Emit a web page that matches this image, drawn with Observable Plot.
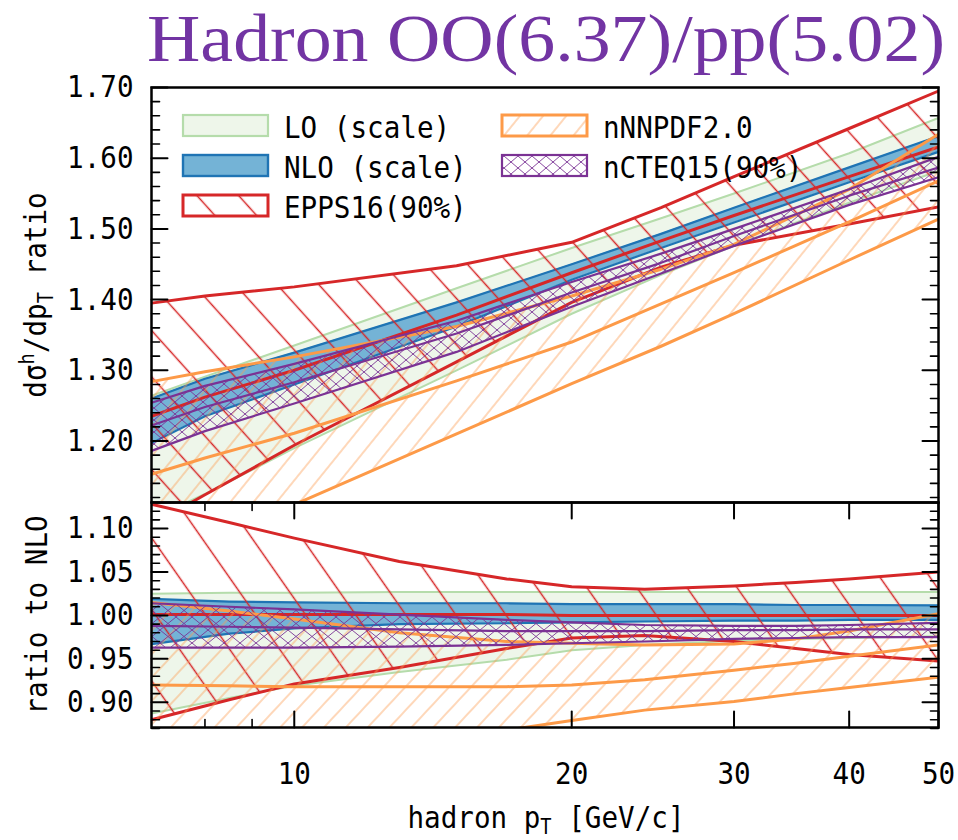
<!DOCTYPE html>
<html><head><meta charset="utf-8">
<script src="https://cdn.jsdelivr.net/npm/d3@7"></script>
<script src="https://cdn.jsdelivr.net/npm/@observablehq/plot@0.6"></script>
<style>
body{margin:0;background:#fff;}
#wrap{position:relative;width:958px;height:840px;overflow:hidden;background:#fff;}
#wrap > svg{position:absolute;left:0;}
</style></head><body>
<svg width="0" height="0" style="position:absolute">
<defs>
<pattern id="eppsTop" patternUnits="userSpaceOnUse" width="31" height="31" patternTransform="rotate(-42)">
  <line x1="15.5" y1="0" x2="15.5" y2="31" stroke="#d62728" stroke-width="1.5"/>
</pattern>
<pattern id="eppsBot" patternUnits="userSpaceOnUse" width="41" height="41" patternTransform="rotate(-35)">
  <line x1="20.5" y1="0" x2="20.5" y2="41" stroke="#d62728" stroke-width="1.5"/>
</pattern>
<pattern id="nnpdfTop" patternUnits="userSpaceOnUse" width="18" height="18" patternTransform="rotate(39)">
  <line x1="9" y1="0" x2="9" y2="18" stroke="#fd9a50" stroke-width="0.8"/>
</pattern>
<pattern id="nnpdfBot" patternUnits="userSpaceOnUse" width="16" height="16" patternTransform="rotate(43)">
  <line x1="8" y1="0" x2="8" y2="16" stroke="#fd9a50" stroke-width="0.8"/>
</pattern>
<pattern id="ncteqTop" patternUnits="userSpaceOnUse" width="14" height="12">
  <path d="M0,0L14,12M14,0L0,12" stroke="#7b3294" stroke-width="0.9" fill="none"/>
</pattern>
<pattern id="ncteqBot" patternUnits="userSpaceOnUse" width="16" height="13">
  <path d="M0,0L16,13M16,0L0,13" stroke="#7b3294" stroke-width="0.9" fill="none"/>
</pattern>
</defs></svg>
<div id="wrap"></div>
<script>
// ---------- data: upper panel (cross-section ratio) ----------
const ptTop = [7, 8, 10, 15, 20, 25, 30, 40, 50];
const loTopUpper      = [1.264, 1.291, 1.335, 1.416, 1.473, 1.515, 1.550, 1.607, 1.657];
const loTopLower      = [1.090, 1.125, 1.190, 1.300, 1.380, 1.435, 1.476, 1.537, 1.582];
const nloTopUpper     = [1.260, 1.288, 1.325, 1.396, 1.450, 1.493, 1.530, 1.587, 1.631];
const nloTopLower     = [1.197, 1.235, 1.280, 1.362, 1.428, 1.473, 1.509, 1.566, 1.609];
const eppsTopUpper    = [1.395, 1.405, 1.418, 1.448, 1.481, 1.530, 1.574, 1.642, 1.695];
const eppsTopCentral  = [1.235, 1.262, 1.300, 1.378, 1.438, 1.483, 1.519, 1.574, 1.616];
const eppsTopLower    = [1.081, 1.124, 1.194, 1.312, 1.396, 1.446, 1.477, 1.507, 1.531];
const nnpdfTopUpper   = [1.284, 1.298, 1.319, 1.362, 1.405, 1.443, 1.478, 1.556, 1.634];
const nnpdfTopCentral = [1.153, 1.176, 1.211, 1.285, 1.340, 1.394, 1.438, 1.510, 1.568];
const nnpdfTopLower   = [1.022, 1.056, 1.110, 1.210, 1.281, 1.334, 1.380, 1.456, 1.514];
const ncteqTopUpper   = [1.254, 1.278, 1.309, 1.370, 1.425, 1.465, 1.500, 1.556, 1.602];
const ncteqTopCentral = [1.222, 1.248, 1.283, 1.352, 1.410, 1.452, 1.490, 1.547, 1.587];
const ncteqTopLower   = [1.186, 1.214, 1.253, 1.326, 1.390, 1.437, 1.476, 1.534, 1.573];

// ---------- data: lower panel (ratio to NLO) ----------
const ptRatio = [7, 8.5, 10, 13, 17, 20, 24, 30, 35, 40, 50];
const loRatioUpper      = [1.025, 1.026, 1.026, 1.027, 1.027, 1.027, 1.027, 1.027, 1.027, 1.027, 1.027];
const loRatioLower      = [0.887, 0.905, 0.919, 0.935, 0.949, 0.960, 0.966, 0.971, 0.973, 0.974, 0.976];
const nloRatioUpper     = [1.019, 1.016, 1.015, 1.014, 1.014, 1.013, 1.013, 1.013, 1.012, 1.012, 1.0115];
const nloRatioLower     = [0.967, 0.979, 0.985, 0.990, 0.991, 0.992, 0.993, 0.994, 0.994, 0.995, 0.995];
const eppsRatioUpper    = [1.128, 1.107, 1.089, 1.062, 1.042, 1.033, 1.030, 1.034, 1.038, 1.042, 1.050];
const eppsRatioCentral  = [1.001, 1.001, 1.001, 1.001, 1.001, 1.000, 1.000, 1.000, 1.000, 1.000, 1.000];
const eppsRatioLower    = [0.880, 0.903, 0.921, 0.940, 0.962, 0.974, 0.977, 0.970, 0.962, 0.955, 0.9475];
const nnpdfRatioUpper   = [1.015, 1.005, 0.996, 0.980, 0.970, 0.968, 0.966, 0.967, 0.973, 0.982, 1.002];
const nnpdfRatioCentral = [0.920, 0.919, 0.918, 0.918, 0.918, 0.920, 0.926, 0.937, 0.945, 0.953, 0.966];
const nnpdfRatioLower   = [0.805, 0.818, 0.830, 0.848, 0.868, 0.879, 0.891, 0.901, 0.910, 0.917, 0.929];
const ncteqRatioUpper   = [1.014, 1.010, 1.007, 1.001, 0.995, 0.992, 0.989, 0.988, 0.988, 0.989, 0.9915];
const ncteqRatioCentral = [0.988, 0.987, 0.986, 0.984, 0.982, 0.982, 0.982, 0.983, 0.983, 0.984, 0.984];
const ncteqRatioLower   = [0.963, 0.963, 0.963, 0.964, 0.966, 0.968, 0.970, 0.973, 0.974, 0.975, 0.975];

// ---------- axis ticks / labels ----------
const xTickLabels = [10, 20, 30, 40, 50];
const xMinorTicks = [8, 9];
const yTopLabels = [1.20, 1.30, 1.40, 1.50, 1.60, 1.70];
const yBotLabels = [0.90, 0.95, 1.00, 1.05, 1.10];
const legendLabels = ["LO (scale)", "NLO (scale)", "EPPS16(90%)", "nNNPDF2.0", "nCTEQ15(90%)"];
const titleText = "Hadron OO(6.37)/pp(5.02)";

const yTopMinor = d3.range(56, 86).filter(i => i % 5 !== 0).map(i => i / 50);
const yBotMinor = d3.range(87, 114).filter(i => i % 5 !== 0).map(i => i / 100);

const C = {
  loFill: "#eef6ea", loLine: "#b5dcab",
  nloFill: "#74b3d6", nloLine: "#1f74b4",
  red: "#d62728", orange: "#fd9a48", purple: "#7b3294"
};
const MONO = "DejaVu Sans Mono";

function rows(pt, s) {
  return pt.map((p, i) => {
    const r = {pt: p};
    for (const k in s) r[k] = s[k][i];
    return r;
  });
}
const topRows = rows(ptTop, {
  loU: loTopUpper, loL: loTopLower, nloU: nloTopUpper, nloL: nloTopLower,
  eU: eppsTopUpper, eC: eppsTopCentral, eL: eppsTopLower,
  nU: nnpdfTopUpper, nC: nnpdfTopCentral, nL: nnpdfTopLower,
  cU: ncteqTopUpper, cC: ncteqTopCentral, cL: ncteqTopLower
});
const botRows = rows(ptRatio, {
  loU: loRatioUpper, loL: loRatioLower, nloU: nloRatioUpper, nloL: nloRatioLower,
  eU: eppsRatioUpper, eC: eppsRatioCentral, eL: eppsRatioLower,
  nU: nnpdfRatioUpper, nC: nnpdfRatioCentral, nL: nnpdfRatioLower,
  cU: ncteqRatioUpper, cC: ncteqRatioCentral, cL: ncteqRatioLower
});

const tickUp = {draw(c, l) { c.moveTo(0, 0); c.lineTo(0, -l); }};
const tickDown = {draw(c, l) { c.moveTo(0, 0); c.lineTo(0, l); }};
const tickRight = {draw(c, l) { c.moveTo(0, 0); c.lineTo(l, 0); }};
const tickLeft = {draw(c, l) { c.moveTo(0, 0); c.lineTo(-l, 0); }};

function yEdgeTicks(yMaj, yMin) {
  const s = {stroke: "black", anchor: "start"};
  const M = 16, m = 8;
  return [
    Plot.vectorY(yMaj, {y: d => d, frameAnchor: "left", length: M, shape: tickRight, strokeWidth: 2, ...s}),
    Plot.vectorY(yMaj, {y: d => d, frameAnchor: "right", length: M, shape: tickLeft, strokeWidth: 2, ...s}),
    Plot.vectorY(yMin, {y: d => d, frameAnchor: "left", length: m, shape: tickRight, strokeWidth: 1.6, ...s}),
    Plot.vectorY(yMin, {y: d => d, frameAnchor: "right", length: m, shape: tickLeft, strokeWidth: 1.6, ...s})
  ];
}
function xEdgeTicks() {
  const s = {stroke: "black", anchor: "start"};
  const M = 16, m = 8;
  return [
    Plot.vectorX(xTickLabels, {x: d => d, frameAnchor: "bottom", length: M, shape: tickUp, strokeWidth: 2, ...s}),
    Plot.vectorX(xTickLabels, {x: d => d, frameAnchor: "top", length: M, shape: tickDown, strokeWidth: 2, ...s}),
    Plot.vectorX(xMinorTicks, {x: d => d, frameAnchor: "bottom", length: m, shape: tickUp, strokeWidth: 1.6, ...s}),
    Plot.vectorX(xMinorTicks, {x: d => d, frameAnchor: "top", length: m, shape: tickDown, strokeWidth: 1.6, ...s})
  ];
}

function bandMarks(data, pats) {
  const L = (y, stroke, w) => Plot.lineY(data, {x: "pt", y, stroke, strokeWidth: w, clip: true});
  return [
    Plot.areaY(data, {x: "pt", y1: "loL", y2: "loU", fill: C.loFill, clip: true}),
    L("loU", C.loLine, 2), L("loL", C.loLine, 2),
    Plot.areaY(data, {x: "pt", y1: "nloL", y2: "nloU", fill: C.nloFill, clip: true}),
    L("nloU", C.nloLine, 2.2), L("nloL", C.nloLine, 2.2),
    Plot.areaY(data, {x: "pt", y1: "eL", y2: "eU", fill: pats.e, clip: true}),
    L("eU", C.red, 3), L("eC", C.red, 3), L("eL", C.red, 3),
    Plot.areaY(data, {x: "pt", y1: "nL", y2: "nU", fill: pats.n, clip: true}),
    L("nU", C.orange, 3), L("nC", C.orange, 3), L("nL", C.orange, 3),
    Plot.areaY(data, {x: "pt", y1: "cL", y2: "cU", fill: pats.c, clip: true}),
    L("cU", C.purple, 2.2), L("cC", C.purple, 2.2), L("cL", C.purple, 2.2)
  ];
}

const common = {
  width: 958, marginLeft: 151, marginRight: 20,
  style: {fontFamily: MONO, fontSize: "31px", background: "transparent", overflow: "visible"}
};

const topPlot = Plot.plot({
  ...common,
  height: 504, marginTop: 87, marginBottom: 2,
  x: {type: "log", domain: [7, 50], axis: null},
  y: {domain: [1.113, 1.70]},
  marks: [
    ...bandMarks(topRows, {e: "url(#eppsTop)", n: "url(#nnpdfTop)", c: "url(#ncteqTop)"}),
    ...yEdgeTicks(yTopLabels, yTopMinor),
    Plot.axisY({ticks: yTopLabels, tickSize: 0, tickPadding: 18, tickFormat: d3.format(".2f"), label: null, fontSize: 31, fontFamily: MONO, fill: "black"}),
    Plot.frame({stroke: "black", strokeWidth: 2.5})
  ]
});

const botPlot = Plot.plot({
  ...common,
  height: 340, marginTop: 2, marginBottom: 113,
  x: {type: "log", domain: [7, 50]},
  y: {domain: [0.871, 1.13]},
  marks: [
    ...bandMarks(botRows, {e: "url(#eppsBot)", n: "url(#nnpdfBot)", c: "url(#ncteqBot)"}),
    ...yEdgeTicks(yBotLabels, yBotMinor),
    ...xEdgeTicks(),
    Plot.axisY({ticks: yBotLabels, tickSize: 0, tickPadding: 18, tickFormat: d3.format(".2f"), label: null, fontSize: 31, fontFamily: MONO, fill: "black"}),
    Plot.axisX({ticks: xTickLabels, tickSize: 0, tickPadding: 34, tickFormat: d => String(d), label: null, fontSize: 31, fontFamily: MONO, fill: "black"}),
    Plot.frame({stroke: "black", strokeWidth: 2.5})
  ]
});

const wrap = document.getElementById("wrap");
topPlot.style.top = "0px";
botPlot.style.top = "500px";
wrap.appendChild(topPlot);
wrap.appendChild(botPlot);

// ---------- overlay: title, axis titles, legend ----------
const ov = d3.select(wrap).append("svg")
  .attr("width", 958).attr("height", 840).style("top", "0px").style("pointer-events", "none");

ov.append("text")
  .attr("x", 147).attr("y", 61)
  .attr("font-family", "Liberation Serif, 'Times New Roman', serif")
  .attr("font-size", 68).attr("fill", "#7234a3")
  .attr("textLength", 798).attr("lengthAdjust", "spacingAndGlyphs")
  .text(titleText);

const mono = (sel) => sel.attr("font-family", MONO).attr("font-size", 31).attr("fill", "black").classed("sq", true);

// y title, upper panel
const yt = mono(ov.append("text")).attr("text-anchor", "middle")
  .attr("transform", "translate(46,295) rotate(-90)");
yt.append("tspan").text("d\u03c3");
yt.append("tspan").attr("dy", -12).attr("font-size", 21).text("h");
yt.append("tspan").attr("dy", 12).text("/dp");
yt.append("tspan").attr("dy", 7).attr("font-size", 21).text("T");
yt.append("tspan").attr("dy", -7).text(" ratio");

// y title, lower panel
mono(ov.append("text")).attr("text-anchor", "middle")
  .attr("transform", "translate(47,615) rotate(-90)").text("ratio to NLO");

// x title
const xt = mono(ov.append("text")).attr("text-anchor", "middle").attr("x", 546).attr("y", 828);
xt.append("tspan").text("hadron p");
xt.append("tspan").attr("dy", 6).attr("font-size", 21).text("T");
xt.append("tspan").attr("dy", -6).text(" [GeV/c]");

// legend
const legStyles = [
  {fill: C.loFill, stroke: C.loLine, sw: 2.2},
  {fill: C.nloFill, stroke: C.nloLine, sw: 2.4},
  {fill: "url(#eppsTop)", stroke: C.red, sw: 3},
  {fill: "url(#nnpdfTop)", stroke: C.orange, sw: 3},
  {fill: "url(#ncteqTop)", stroke: C.purple, sw: 2.2}
];
legendLabels.forEach((lab, i) => {
  const col = i < 3 ? 0 : 1, row = i < 3 ? i : i - 3;
  const bx = [183, 502][col], by = 115 + row * 40;
  const st = legStyles[i];
  ov.append("rect").attr("x", bx).attr("y", by).attr("width", 85).attr("height", 21)
    .attr("fill", st.fill).attr("stroke", st.stroke).attr("stroke-width", st.sw);
  mono(ov.append("text")).attr("x", bx + 101).attr("y", 138 + row * 40).text(lab);
});

// condense monospace text horizontally
function squeeze(nodes, k) {
  nodes.forEach(n => {
    const L = n.getComputedTextLength();
    if (L > 0) { n.setAttribute("textLength", L * k); n.setAttribute("lengthAdjust", "spacingAndGlyphs"); }
  });
}
squeeze(Array.from(wrap.querySelectorAll("text.sq")), 0.89);
squeeze(Array.from(topPlot.querySelectorAll("text")), 0.89);
squeeze(Array.from(botPlot.querySelectorAll("text")), 0.89);
</script>
</body></html>
